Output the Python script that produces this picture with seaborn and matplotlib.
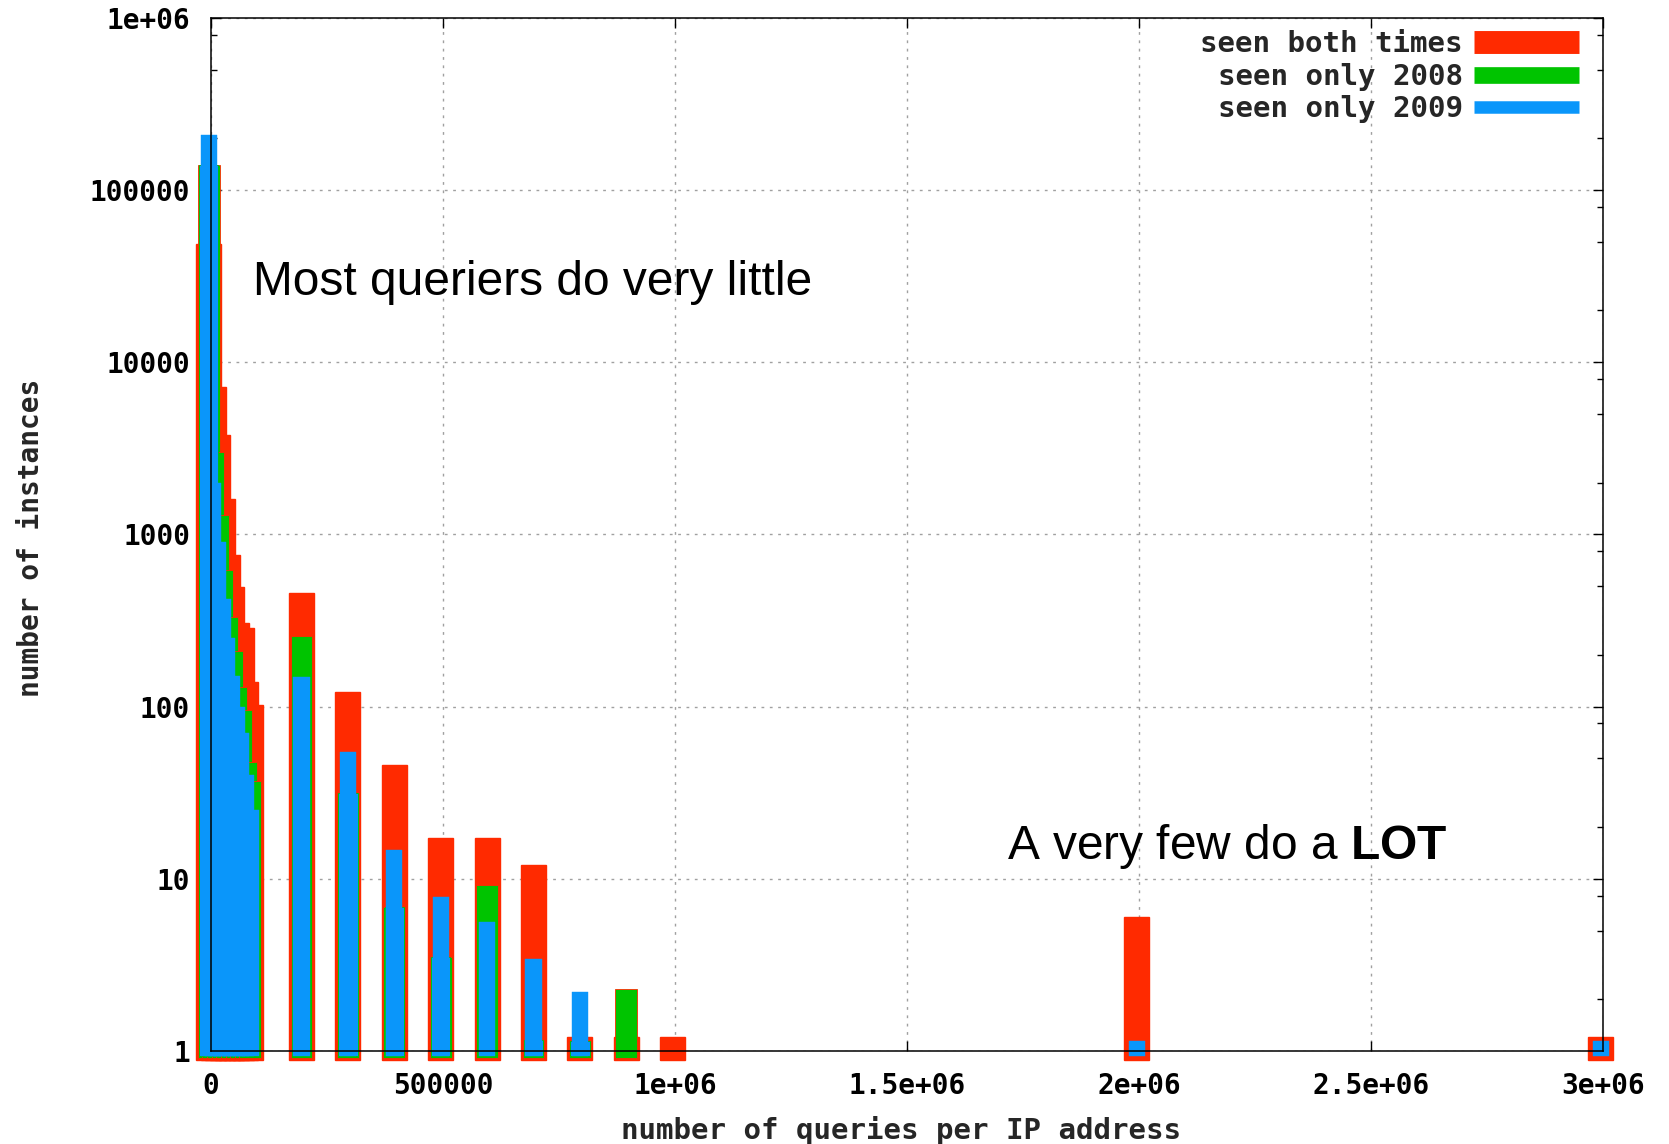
import matplotlib
matplotlib.use('Agg')
import matplotlib.pyplot as plt
import matplotlib.ticker as mticker
from matplotlib.lines import Line2D
from matplotlib.font_manager import FontProperties
import numpy as np
import seaborn as sns

# histogram bins (number of queries per IP address)
bins = [0, 10000, 20000, 30000, 40000, 50000, 60000, 70000, 80000, 90000,
        200000, 300000, 400000, 500000, 600000, 700000, 800000, 900000,
        1000000, 2000000, 3000000]

# number of instances per bin
seen_both = [48500, 7200, 3800, 1600, 760, 495, 305, 286, 139, 102,
             457, 121, 46, 17.3, 17.3, 12.0, 1.2, 1.2,
             1.2, 6.0, 1.2]
seen_2008 = [140000, 3000, 1300, 620, 330, 210, 130, 95, 48, 37,
             257, 31.5, 6.9, 3.5, 9.2, 1.16, 1.15, 2.3,
             0, 0, 0]
seen_2009 = [209000, 2000, 900, 420, 250, 150, 100, 70, 40, 25,
             149, 54.5, 14.7, 7.8, 5.6, 3.4, 2.2, 0,
             0, 1.15, 1.15]

series_labels = ['seen both times', 'seen only 2008', 'seen only 2009']
x_ticks = [0, 500000, 1000000, 1500000, 2000000, 2500000, 3000000]
x_ticklabels = ['0', '500000', '1e+06', '1.5e+06', '2e+06', '2.5e+06', '3e+06']
y_ticks = [1, 10, 100, 1000, 10000, 100000, 1000000]
y_ticklabels = ['1', '10', '100', '1000', '10000', '100000', '1e+06']

RED = '#ff2a00'
GREEN = '#00c400'
BLUE = '#0a96fa'

sns.set_theme(style='white')
plt.rcParams['font.family'] = ['DejaVu Sans Mono', 'DejaVu Sans']
plt.rcParams['mathtext.fontset'] = 'custom'
plt.rcParams['mathtext.rm'] = 'Liberation Sans'
plt.rcParams['mathtext.bf'] = 'Liberation Sans:bold'

fig = plt.figure(figsize=(16.69, 11.44), dpi=100)
ax = fig.add_axes([0.1264, 0.0813, 0.8341, 0.9030])

x = np.array(bins, dtype=float) - 5000   # gnuplot boxes sit a little left
both = np.array(seen_both, dtype=float)
only08 = np.array(seen_2008, dtype=float)
only09 = np.array(seen_2009, dtype=float)

def boxes(height, width, base, color, edge, lw, z):
    m = height > 0
    bars = ax.bar(x[m], height[m] - base, width=width, bottom=base,
                  color=color, edgecolor=edge, linewidth=lw, zorder=z,
                  align='center')
    for b in bars:
        b.set_clip_on(False)

boxes(both, 54000, 0.886, RED, RED, 1.0, 1)
boxes(only08, 47000, 0.914, GREEN, RED, 0.6, 1.1)
# where 2009 exceeds 2008 the 2008 box shows up blue-filled
low09 = np.where(only09 > only08, only08, 0)
boxes(low09, 42000, 0.935, BLUE, GREEN, 0.6, 1.2)
boxes(only09, 35000, 0.935, BLUE, BLUE, 0.3, 1.3)

ax.set_yscale('log')
ax.set_xlim(0, 3000000)
ax.set_ylim(1, 1e6)

ax.set_xticks(x_ticks)
ax.set_xticklabels(x_ticklabels)
ax.set_yticks(y_ticks)
ax.set_yticklabels(y_ticklabels)
ax.yaxis.set_minor_locator(mticker.LogLocator(base=10, subs=(2.0, 5.0, 8.0)))
ax.yaxis.set_minor_formatter(mticker.NullFormatter())

tick_fp = FontProperties(family='DejaVu Sans Mono', weight='bold', size=20)
label_fp = FontProperties(family='DejaVu Sans Mono', weight='bold', size=21)
for lab in ax.get_xticklabels() + ax.get_yticklabels():
    lab.set_fontproperties(tick_fp)
    lab.set_color('black')

ax.tick_params(which='both', direction='in', top=True, right=True,
               bottom=True, left=True, color='black')
ax.tick_params(which='major', length=7, width=1, pad=15)
ax.tick_params(which='minor', length=4, width=1)

for s in ax.spines.values():
    s.set_color('black')
    s.set_linewidth(1.1)
    s.set_zorder(5)

ax.grid(True, which='major', color='#a0a0a0', linestyle=(0, (2, 4)), linewidth=1)
ax.set_axisbelow(True)

ax.set_xlabel('number of queries per IP address', fontproperties=label_fp)
ax.set_ylabel('number of instances',
              fontproperties=FontProperties(family='DejaVu Sans Mono', weight='bold', size=20))
ax.xaxis.set_label_coords(0.496, -0.063)
ax.yaxis.set_label_coords(-0.119, 0.497)

ax.text(0.030, 0.744, 'Most queriers do very little', transform=ax.transAxes,
        family='Liberation Sans', fontsize=34.5, va='center', ha='left', color='black')
ax.text(0.572, 0.198, r'A very few do a $\bf{LOT}$', transform=ax.transAxes,
        family='Liberation Sans', fontsize=34.5, va='center', ha='left', color='black')

handles = [Line2D([], [], color=RED, lw=16.5, solid_capstyle='butt'),
           Line2D([], [], color=GREEN, lw=12, solid_capstyle='butt'),
           Line2D([], [], color=BLUE, lw=9, solid_capstyle='butt')]
leg = ax.legend(handles, series_labels, loc='upper right',
                bbox_to_anchor=(0.983, 0.988), markerfirst=False, frameon=False,
                prop=label_fp, handlelength=3.6, handletextpad=0.4,
                labelspacing=0.15, borderpad=0, borderaxespad=0)
leg.set_zorder(6)

plt.savefig('out.png', dpi=100)
plt.close()
